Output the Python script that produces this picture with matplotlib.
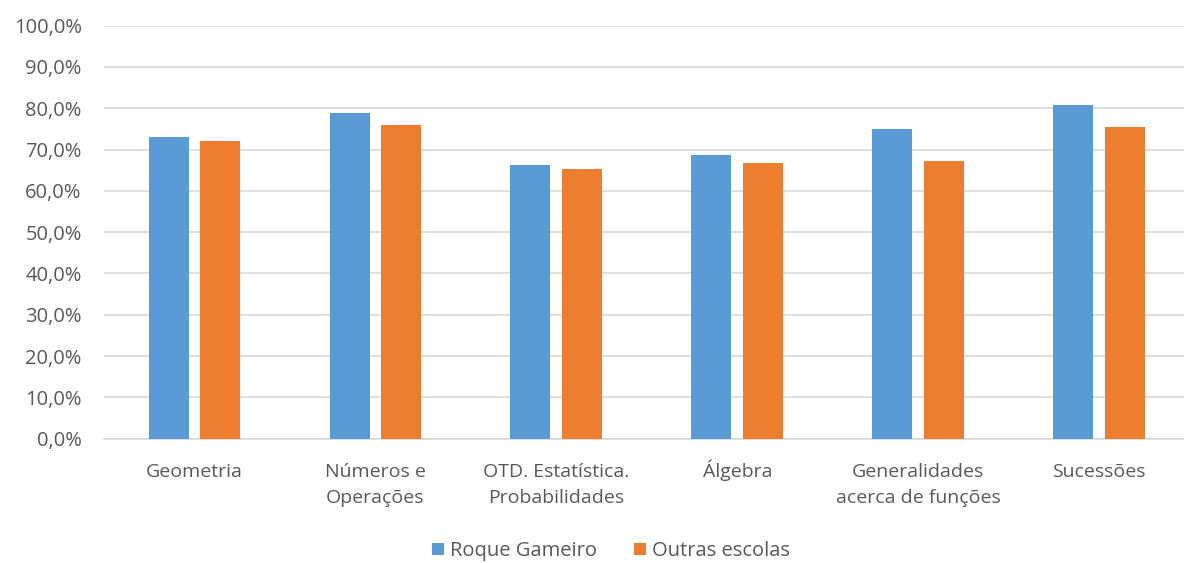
import numpy as np
import matplotlib
matplotlib.use('Agg')
import matplotlib.pyplot as plt
from matplotlib.ticker import FuncFormatter

categories = ['Geometria', 'Números e\nOperações', 'OTD. Estatística.\nProbabilidades',
              'Álgebra', 'Generalidades\nacerca de funções', 'Sucessões']
roque = [73.0, 78.8, 66.2, 68.6, 74.9, 80.8]
outras = [72.0, 76.0, 65.2, 66.8, 67.2, 75.4]
series_names = ['Roque Gameiro', 'Outras escolas']

BLUE = '#5B9BD5'
ORANGE = '#ED7D31'
GREY = '#595959'
FS = 14

plt.rcParams['font.family'] = ['Open Sans', 'DejaVu Sans']

fig = plt.figure(figsize=(11.84, 5.63), dpi=100)
ax = fig.add_axes([0.0878, 0.2208, 0.917, 0.7336])

x = np.arange(len(categories))
w = 0.221
off = 0.143
ax.bar(x - off, roque, w, color=BLUE, label=series_names[0], zorder=3)
ax.bar(x + off, outras, w, color=ORANGE, label=series_names[1], zorder=3)

ax.set_xlim(-0.5, len(categories) - 0.5)
ax.set_ylim(0, 100)
ax.set_yticks(np.arange(0, 101, 10))
ax.yaxis.set_major_formatter(FuncFormatter(lambda v, p: f'{v:.1f}%'.replace('.', ',')))
ax.grid(axis='y', color='#d9d9d9', linewidth=1.2, zorder=0)
for s in ['top', 'right', 'left']:
    ax.spines[s].set_visible(False)
ax.spines['bottom'].set_color('#d9d9d9')
ax.spines['bottom'].set_linewidth(1.2)
ax.tick_params(axis='y', length=0, pad=16, labelsize=14.5, labelcolor=GREY)
ax.set_xticks(x)
ax.set_xticklabels([])
ax.tick_params(axis='x', length=0)

# category labels: each line on its own baseline so first lines line up
for i, lab in enumerate(categories):
    for k, line in enumerate(lab.split('\n')):
        ax.annotate(line, xy=(i, 0), xycoords=('data', 'axes fraction'),
                    xytext=(0, -27.6 - 18.7 * k), textcoords='offset points',
                    ha='center', va='baseline', fontsize=FS, color=GREY)

leg = fig.legend(loc='center', bbox_to_anchor=(0.516, 0.021), ncol=2, frameon=False,
                 fontsize=14.5, handlelength=0.6, handleheight=0.6, handletextpad=0.3,
                 columnspacing=1.8)
for t in leg.get_texts():
    t.set_color(GREY)

fig.savefig('out.png', dpi=100)
